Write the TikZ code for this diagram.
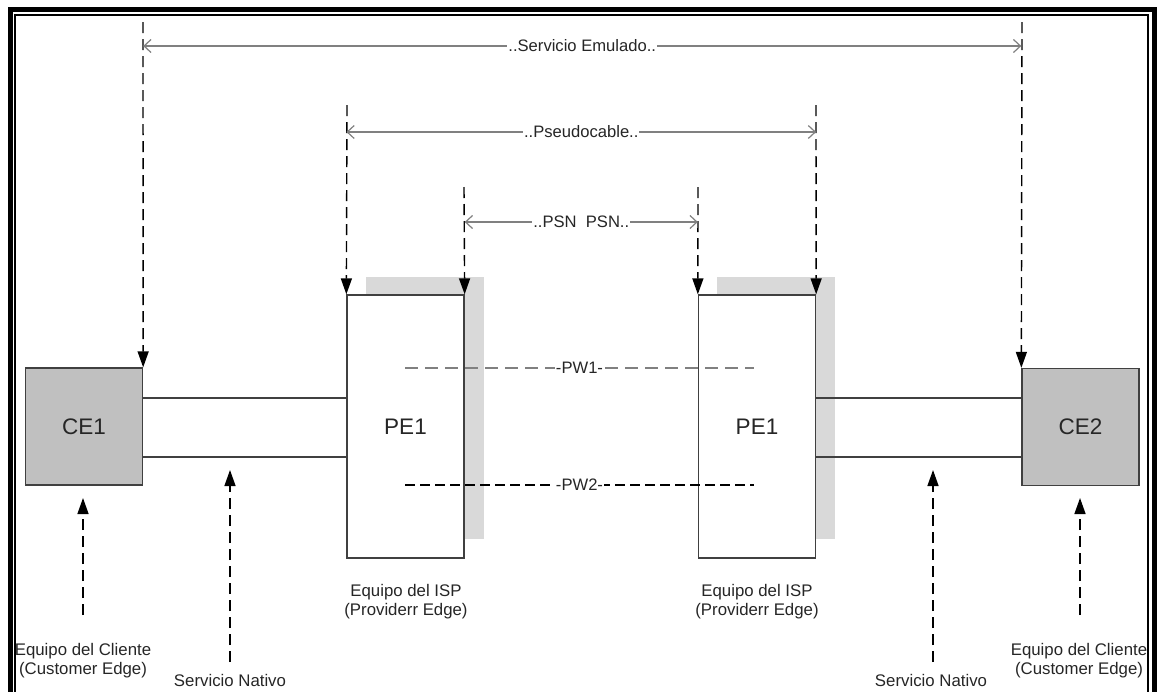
\documentclass[tikz,border=0pt]{standalone}
\usepackage{fontspec}
\setmainfont{Liberation Sans}
\usetikzlibrary{arrows.meta,calc}
\definecolor{boxline}{HTML}{404040}
\definecolor{cegray}{HTML}{C0C0C0}
\definecolor{shadowgray}{HTML}{D9D9D9}
\definecolor{spangray}{HTML}{808080}
\definecolor{txt}{HTML}{262626}
\begin{document}
\begin{tikzpicture}[x=1pt,y=-1pt,
  box/.style={draw=boxline, line width=1.3pt, inner sep=0pt, minimum width=117pt,
    font=\fontsize{22.5}{25}\selectfont, text=txt},
  cebox/.style={box, fill=cegray, minimum height=117pt},
  pebox/.style={box, fill=white, minimum height=263pt},
  shadowbox/.style={fill=shadowgray, draw=none},
  link/.style={draw=boxline, line width=1.2pt},
  vdash/.style={line width=1.4pt, dash pattern=on 11pt off 6pt,
    -{Triangle[length=16pt,width=11pt]}},
  span/.style={draw=spangray, line width=1.8pt,
    {Straight Barb[length=7pt,width=13pt,line width=1.2pt]}-{Straight Barb[length=7pt,width=13pt,line width=1.2pt]}},
  spanlabel/.style={fill=white, inner sep=1pt, font=\fontsize{16.6}{19}\selectfont, text=txt},
  pwone/.style={draw=spangray, line width=1.8pt, dash pattern=on 13pt off 7pt},
  pwtwo/.style={draw=black, line width=1.2pt, dash pattern=on 10pt off 5pt},
  lab/.style={align=center, inner sep=0pt, font=\fontsize{16.8}{19}\selectfont, text=txt}
]
\useasboundingbox (0,0) rectangle (1157,691);
\clip (0,0) rectangle (1157,691);
% frame
\draw[line width=5pt] (10,9.5) rectangle (1154.5,760);
\draw[line width=2pt] (15,15) rectangle (1148,760);

% shadows
\fill[shadowgray] (366,277) rectangle (484,539);
\fill[shadowgray] (717,277) rectangle (835,539);

% boxes
\node[cebox] (ce1) at (84,426.5) {CE1};
\node[cebox] (ce2) at (1080.5,427) {CE2};
\node[pebox] (pe1) at (405.5,426.5) {PE1};
\node[pebox] (pe2) at (757,426.5) {PE1};

% links
\coordinate (ya) at (0,398);
\coordinate (yb) at (0,457);
\draw[link] (ce1.east |- ya) -- (pe1.west |- ya);
\draw[link] (ce1.east |- yb) -- (pe1.west |- yb);
\draw[link] (pe2.east |- ya) -- (ce2.west |- ya);
\draw[link] (pe2.east |- yb) -- (ce2.west |- yb);

% vertical dashed arrows
\coordinate (t1) at (143,22);
\coordinate (t2) at (347,105);
\coordinate (t3) at (464,187);
\coordinate (t4) at (698,187);
\coordinate (t5) at (816,105);
\coordinate (t6) at (1022,22);
\draw[vdash] (t1) -- (ce1.north east);
\draw[vdash] (t2) -- (pe1.north west);
\draw[vdash] (t3) -- (pe1.north east);
\draw[vdash] (t4) -- (pe2.north west);
\draw[vdash] (t5) -- (pe2.north east);
\draw[vdash] (t6) -- (ce2.north west);

% spans
\coordinate (h1) at (0,46);
\coordinate (h2) at (0,132);
\coordinate (h3) at (0,222);
\draw[span] (ce1.north east |- h1) -- node[spanlabel]{..Servicio Emulado..} (ce2.north west |- h1);
\draw[span] (pe1.north west |- h2) -- node[spanlabel]{..Pseudocable..} (pe2.north east |- h2);
\draw[span] (pe1.north east |- h3) -- node[spanlabel]{..PSN\ \ PSN..} (pe2.north west |- h3);

% pseudowires
\coordinate (pwa1) at (405,368);
\coordinate (pwb1) at (754,368);
\coordinate (pwa2) at (405,485);
\coordinate (pwb2) at (754,485);
\draw[pwone] (pwa1) -- node[spanlabel]{-PW1-} (pwb1);
\draw[pwtwo] (pwa2) -- node[spanlabel]{-PW2-} (pwb2);

% upward arrows
\coordinate (u1a) at (83,615);
\coordinate (u1b) at (83,498);
\coordinate (u2a) at (230,662);
\coordinate (u2b) at (230,470);
\coordinate (u3a) at (933,662);
\coordinate (u3b) at (933,470);
\coordinate (u4a) at (1080,615);
\coordinate (u4b) at (1080,498);
\draw[vdash] (u1a) -- (u1b);
\draw[vdash] (u2a) -- (u2b);
\draw[vdash] (u3a) -- (u3b);
\draw[vdash] (u4a) -- (u4b);

% labels
\node[lab] (lce1) at (83,661) {Equipo del Cliente\\(Customer Edge)};
\node[lab] (lsn1) at (230,680) {Servicio Nativo};
\node[lab] (lpe1) at (406,602) {Equipo del ISP\\(Providerr Edge)};
\node[lab] (lpe2) at (757,602) {Equipo del ISP\\(Providerr Edge)};
\node[lab] (lsn2) at (931,680) {Servicio Nativo};
\node[lab] (lce2) at (1079,661) {Equipo del Cliente\\(Customer Edge)};
\end{tikzpicture}
\end{document}
